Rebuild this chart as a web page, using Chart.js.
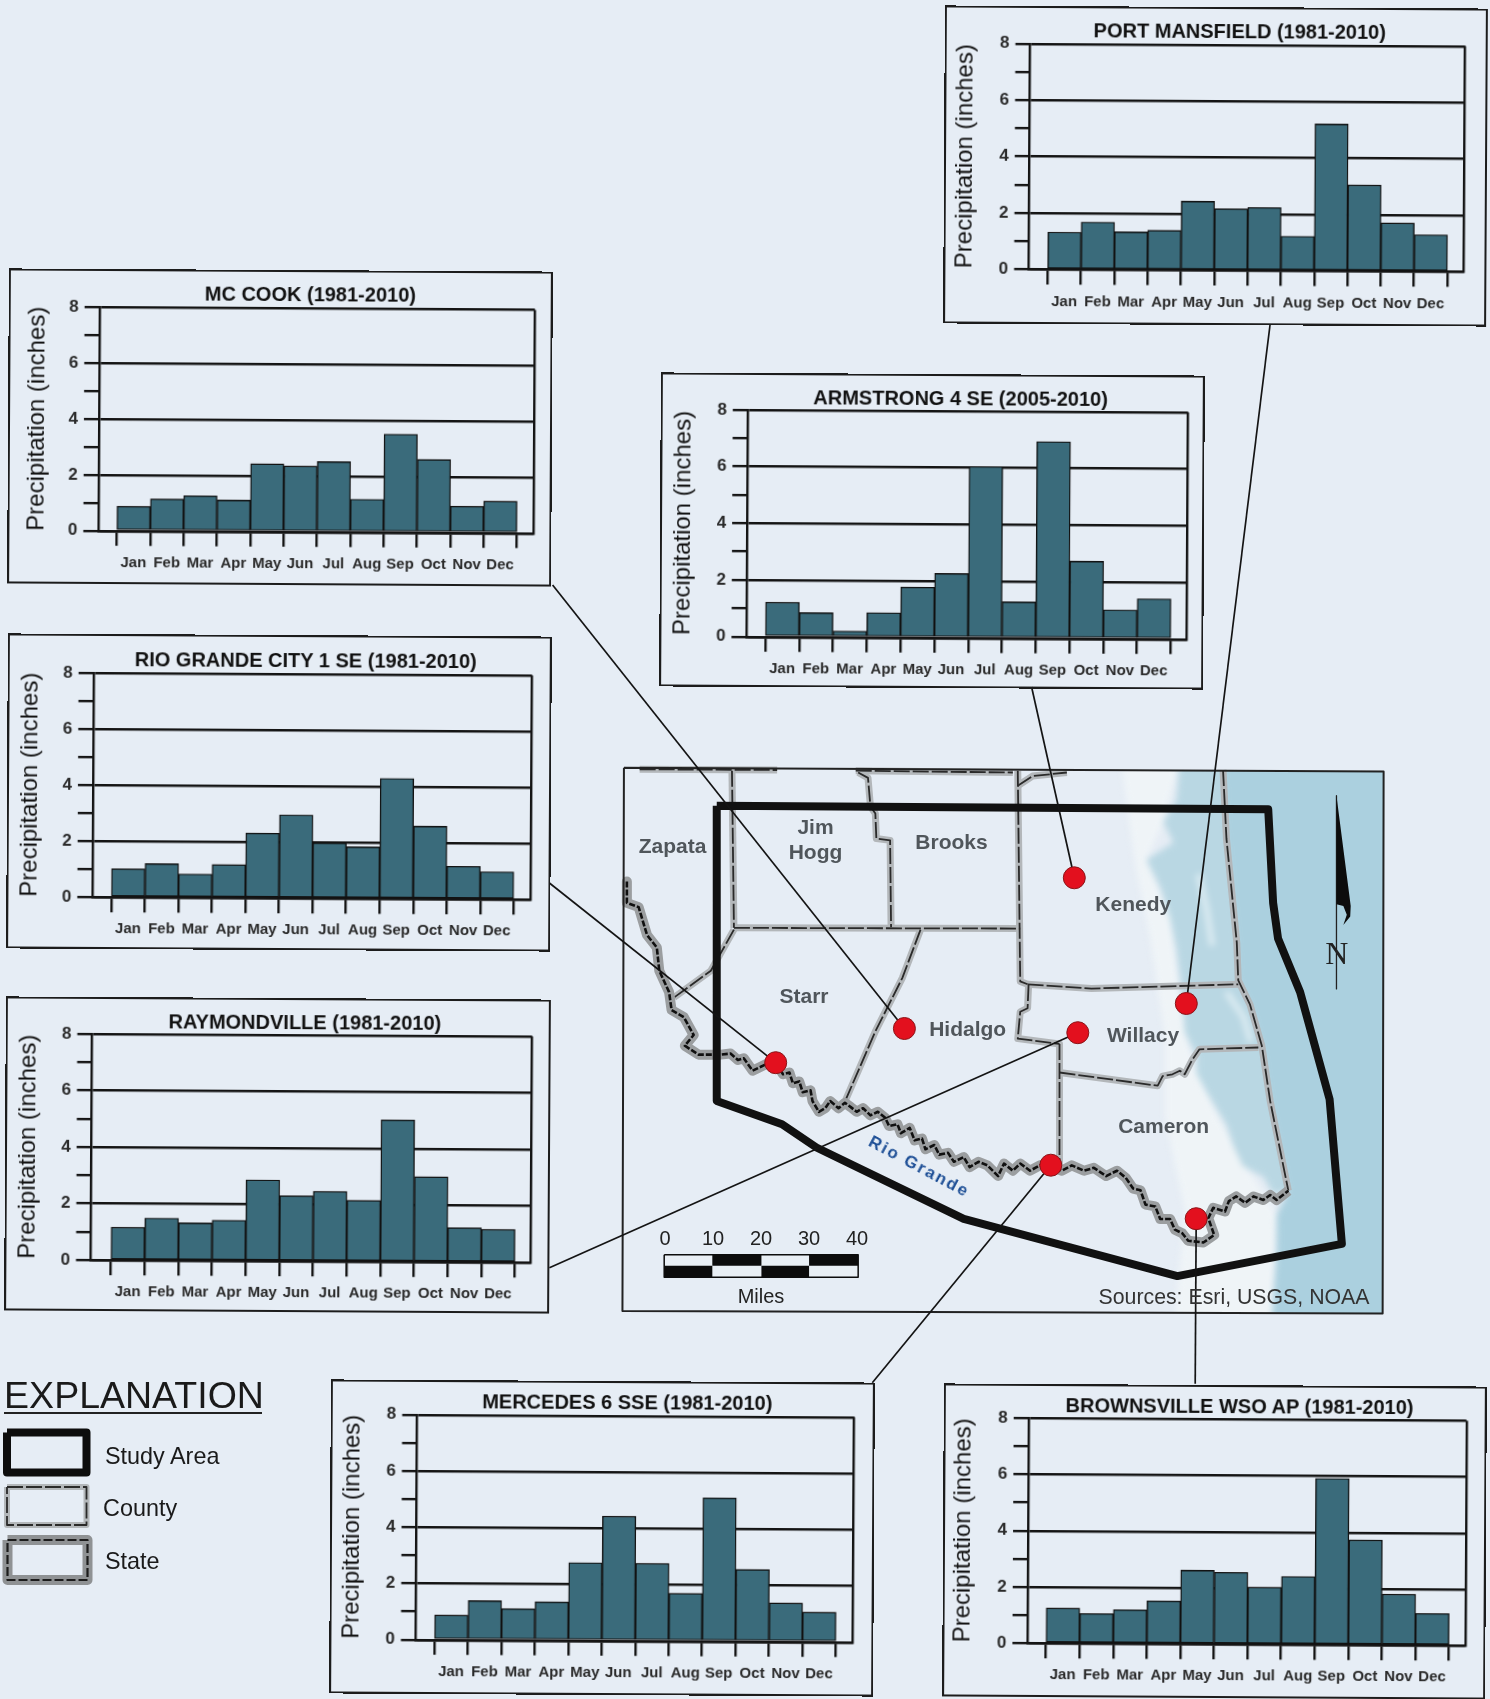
<!DOCTYPE html>
<html>
<head>
<meta charset="utf-8">
<title>Precipitation by station</title>
<script src="https://cdn.jsdelivr.net/npm/chart.js@4"></script>
<style>
    html, body { margin: 0; padding: 0; background: #e6edf5; }
    #page { position: relative; width: 1490px; height: 1699px; overflow: hidden; background: #e6edf5; filter: blur(0.45px); font-family: "Liberation Sans", Arial, sans-serif; color: #1a1a1a; }
    #page canvas { position: absolute; left: 0; top: 0; }
    .panel { position: absolute; z-index: 3; }
    .panel-frame { position: absolute; inset: 0; border: 2.4px solid #1c1c1c; box-sizing: border-box; }
    .panel-title { position: absolute; transform: translate(-50%, -50%); font-weight: bold; font-size: 20px; white-space: nowrap; color: #111; }
    .label { position: absolute; transform: translate(-50%, -50%); white-space: nowrap; z-index: 4; }
    .county { font-weight: bold; font-size: 21px; color: #50565b; }
    .legend-text { font-size: 23.4px; transform: translate(0, -50%); }
</style>
</head>
<body>
<div id="page">
    <canvas id="coastChart" width="770" height="560" style="left:620px;top:760px;z-index:0;filter:blur(3px);clip-path:polygon(3.9px 7.9px,763.8px 11.4px,762.8px 553.6px,2.5px 551.1px)"></canvas>
    <canvas id="mapChart" width="770" height="560" style="left:620px;top:760px;z-index:1"></canvas>
    <canvas id="overlayChart" width="1490" height="1699" style="z-index:2"></canvas>
</div>
<script>
const months = ['Jan', 'Feb', 'Mar', 'Apr', 'May', 'Jun', 'Jul', 'Aug', 'Sep', 'Oct', 'Nov', 'Dec'];
const yTicks = [0, 1, 2, 3, 4, 5, 6, 7, 8];

const portMansfieldValues = [1.33, 1.69, 1.35, 1.41, 2.45, 2.19, 2.24, 1.23, 5.21, 3.06, 1.72, 1.31];
const mcCookValues = [0.88, 1.15, 1.27, 1.12, 2.43, 2.36, 2.52, 1.18, 3.52, 2.62, 0.95, 1.14];
const armstrongValues = [1.22, 0.86, 0.22, 0.87, 1.78, 2.27, 6.05, 1.28, 6.94, 2.73, 1.02, 1.42];
const rioGrandeCityValues = [1.02, 1.21, 0.85, 1.19, 2.32, 2.98, 1.98, 1.85, 4.30, 2.60, 1.18, 0.99];
const raymondvilleValues = [1.17, 1.50, 1.34, 1.44, 2.87, 2.32, 2.48, 2.17, 5.02, 3.02, 1.22, 1.17];
const mercedesValues = [0.88, 1.40, 1.12, 1.37, 2.77, 4.43, 2.76, 1.70, 5.10, 2.56, 1.38, 1.06];
const brownsvilleValues = [1.26, 1.07, 1.21, 1.53, 2.63, 2.56, 2.04, 2.43, 5.92, 3.74, 1.82, 1.14];

// box / plot are left, top, right, bottom on the page, bars is first and last bar edge
const panels = [
    { title: 'PORT MANSFIELD (1981-2010)', values: portMansfieldValues, box: [943.6, 7, 1487, 324.5], plot: [1029.3, 44.7, 1464.6, 270], bars: [1047.9, 1447.9], titleAt: [1238.6, 31], titlePad: 7 },
    { title: 'MC COOK (1981-2010)', values: mcCookValues, box: [8.4, 269.8, 552.4, 585], plot: [99.3, 308.3, 534.6, 531.7], bars: [117.9, 517.9], titleAt: [310, 294], titlePad: 15 },
    { title: 'ARMSTRONG 4 SE (2005-2010)', values: armstrongValues, box: [660, 374, 1204, 688], plot: [747.1, 411, 1187.5, 637.7], bars: [766, 1171.4], titleAt: [959.8, 397.7], titlePad: 9 },
    { title: 'RIO GRANDE CITY 1 SE (1981-2010)', values: rioGrandeCityValues, box: [7, 635, 551, 950], plot: [92.9, 674, 531.4, 898.3], bars: [112, 514.3], titleAt: [305, 660], titlePad: 9 },
    { title: 'RAYMONDVILLE (1981-2010)', values: raymondvilleValues, box: [5.4, 998.3, 550.5, 1312.5], plot: [92, 1035.3, 532, 1261.7], bars: [112, 516], titleAt: [304.5, 1022], titlePad: 9 },
    { title: 'MERCEDES 6 SSE (1981-2010)', values: mercedesValues, box: [329.5, 1381.3, 873.2, 1695], plot: [416, 1416, 852.9, 1640.7], bars: [434.6, 835.7], titleAt: [626, 1402.7], titlePad: 8 },
    { title: 'BROWNSVILLE WSO AP (1981-2010)', values: brownsvilleValues, box: [943.2, 1384.7, 1486, 1698], plot: [1028.2, 1419, 1465.7, 1644.3], bars: [1046.8, 1449.6], titleAt: [1239, 1406], titlePad: 6 }
];

// map outlines in a 1568 x 1568 grid laid over it
const mapFrame = [[8, 22], [1555, 32], [1553, 1550], [5, 1543], [8, 22]];
const paleCoast = [[1020, 0], [1140, 0], [1106, 173], [1072, 279], [1120, 443], [1150, 762], [1174, 878], [1249, 1080], [1337, 1274], [1327, 1568], [1130, 1568], [1150, 1260], [1110, 1000], [1110, 780], [1080, 500], [1050, 300], [1020, 0]];
const lagoon = [[1140, 0], [1133, 115], [1106, 173], [1127, 231], [1072, 279], [1100, 356], [1120, 443], [1133, 530], [1140, 607], [1147, 704], [1150, 762], [1174, 829], [1174, 878], [1201, 945], [1235, 1022], [1249, 1080], [1269, 1138], [1310, 1167], [1330, 1216], [1361, 1206], [1324, 955], [1307, 800], [1283, 685], [1259, 617], [1256, 511], [1235, 221], [1228, 0], [1140, 0]];
const gulf = [[1228, 0], [1235, 221], [1256, 511], [1259, 617], [1283, 685], [1307, 800], [1324, 955], [1361, 1206], [1337, 1274], [1337, 1380], [1327, 1568], [1568, 1568], [1568, 0], [1228, 0]];
const barrierStreaks = [
    [[1178, 320], [1195, 420], [1206, 520]],
    [[1235, 650], [1270, 720], [1285, 790]]
];
const studyArea = [[197, 128], [1320, 138], [1330, 400], [1340, 500], [1385, 650], [1445, 950], [1470, 1355], [1135, 1445], [700, 1285], [400, 1085], [330, 1020], [197, 955], [197, 128]];
const countyLines = [
    [[40, 26], [320, 28]],
    [[480, 30], [800, 35]],
    [[228, 30], [232, 470]],
    [[232, 470], [815, 472]],
    [[485, 35], [505, 50], [510, 130], [520, 150], [522, 220], [550, 225], [552, 468]],
    [[810, 30], [815, 620], [830, 628]],
    [[810, 72], [840, 45], [910, 35]],
    [[830, 628], [960, 640], [1259, 628]],
    [[832, 630], [830, 695], [815, 705], [810, 780], [895, 795]],
    [[895, 795], [895, 1135]],
    [[895, 875], [1095, 912], [1105, 885], [1125, 880], [1140, 870], [1150, 880], [1165, 840], [1180, 810], [1300, 805]],
    [[612, 475], [575, 610], [520, 760], [460, 950]],
    [[232, 475], [185, 590], [110, 665]],
    [[1228, 28], [1235, 221], [1256, 511], [1259, 617], [1283, 685], [1307, 800], [1324, 955], [1361, 1206]]
];
const riverLine = [
    [14, 340], [14, 400], [38, 412], [55, 490], [75, 525], [80, 590], [100, 650], [105, 700], [130, 720], [150, 770], [132, 800], [160, 825], [205, 825],
    [225, 822], [240, 840], [252, 835], [270, 870], [300, 850], [320, 855], [332, 880], [345, 875], [352, 905], [365, 900], [372, 930], [388, 925], [392, 955],
    [405, 985], [418, 975], [428, 955], [445, 975], [458, 960], [470, 972], [482, 985], [495, 975], [510, 995], [525, 985], [540, 1002], [548, 1025], [565, 1020],
    [572, 1045], [590, 1030], [600, 1065], [615, 1060], [622, 1090], [640, 1078], [650, 1105], [668, 1100], [680, 1125], [700, 1112], [712, 1140], [730, 1125],
    [748, 1135], [770, 1165], [782, 1130], [800, 1150], [815, 1130], [835, 1150], [855, 1135], [880, 1140], [900, 1150], [920, 1135], [945, 1150], [965, 1142],
    [990, 1165], [1012, 1150], [1030, 1170], [1045, 1200], [1060, 1205], [1070, 1245], [1090, 1250], [1100, 1285], [1120, 1285], [1130, 1315], [1145, 1325],
    [1157, 1346], [1188, 1351], [1210, 1330], [1198, 1283], [1208, 1254], [1232, 1264], [1240, 1235], [1255, 1222], [1273, 1240], [1290, 1222], [1310, 1232],
    [1324, 1218], [1337, 1232], [1361, 1206]
];
const northArrow = [[1459, 100], [1488, 409], [1487, 438], [1473, 462], [1480, 433], [1473, 409], [1459, 404], [1459, 100]];
const northLine = [[1459, 100], [1459, 641]];
const scaleFrame = [[90, 1385], [485, 1385], [485, 1448], [90, 1448], [90, 1385]];
const scaleBlack = [
    [[188, 1385], [288, 1385], [288, 1416], [188, 1416], [188, 1385]],
    [[385, 1385], [485, 1385], [485, 1416], [385, 1416], [385, 1385]],
    [[90, 1416], [188, 1416], [188, 1448], [90, 1448], [90, 1416]],
    [[288, 1416], [385, 1416], [385, 1448], [288, 1448], [288, 1416]]
];

// page coordinates
const stations = [[1074.3, 877.8], [1186.3, 1003.5], [1077.8, 1032.7], [904.4, 1028.5], [775.7, 1062.7], [1050.8, 1165.2], [1196.2, 1218.7]];
const leaderLines = [
    [[1270, 325], [1186.3, 1003.5]],
    [[1031.6, 687], [1074.3, 877.8]],
    [[552.6, 585], [904.4, 1028.5]],
    [[549.4, 883], [775.7, 1062.7]],
    [[549.4, 1267.8], [1077.8, 1032.7]],
    [[872.3, 1382.7], [1050.8, 1165.2]],
    [[1195.2, 1383.7], [1196.2, 1218.7]]
];
const legendStudy = [[7, 1432.5], [86.5, 1432.5], [86.5, 1472.5], [7, 1472.5], [7, 1432.5]];
const legendCounty = [[7, 1487], [86.5, 1487], [86.5, 1525], [7, 1525], [7, 1487]];
const legendState = [[7.5, 1540], [87.5, 1540], [87.5, 1580], [7.5, 1580], [7.5, 1540]];
const explanationRule = [[4, 1413], [262, 1413]];

const countyLabels = [['Zapata', 672.6, 846.4], ['Jim', 815.5, 827], ['Hogg', 815.5, 852], ['Brooks', 951.5, 842], ['Kenedy', 1133.3, 904], ['Starr', 804, 995.7], ['Hidalgo', 967.7, 1028.5], ['Willacy', 1143, 1035], ['Cameron', 1163.7, 1126]];
const scaleLabels = [['0', 665, 1237.5], ['10', 713, 1237.5], ['20', 761, 1237.5], ['30', 809, 1237.5], ['40', 857, 1237.5], ['Miles', 761, 1296]];
const legendLabels = [['Study Area', 105, 1455.7], ['County', 103, 1508], ['State', 105, 1561]];

const page = document.getElementById('page');
const DARK = '#141414';

function toPoints(path) {
    return path.map(p => ({ x: p[0], y: p[1] }));
}

function stroke(path, color, width, dash) {
    return { data: toPoints(path), showLine: true, pointRadius: 0, borderColor: color, borderWidth: width, borderDash: dash || [], borderJoinStyle: 'round', tension: 0, fill: false };
}

function shape(path, color) {
    return { data: toPoints(path), showLine: true, pointRadius: 0, borderWidth: 0, borderColor: color, backgroundColor: color, tension: 0, fill: 'shape' };
}

// datasets are listed in paint order, first one ends up at the back
function paintOrder(list) {
    list.forEach((d, i) => { d.order = list.length - i; });
    return list;
}

function plainOptions(xMax, yMax) {
    return {
        responsive: false,
        animation: false,
        events: [],
        layout: { autoPadding: false },
        plugins: { legend: { display: false }, tooltip: { enabled: false } },
        scales: {
            x: { type: 'linear', display: false, min: 0, max: xMax },
            y: { type: 'linear', display: false, min: 0, max: yMax, reverse: true }
        }
    };
}

function drawCoast() {
    const list = [
        shape(paleCoast, '#eff4f7'),
        shape(lagoon, '#b9d7e3'),
        shape(gulf, '#abd0df')
    ];
    barrierStreaks.forEach(s => list.push(stroke(s, '#dcecf2', 6)));

    new Chart(document.getElementById('coastChart'), {
        type: 'scatter',
        data: { datasets: paintOrder(list) },
        options: plainOptions(1568, 1568)
    });
}

function drawMap() {
    const list = [];
    countyLines.forEach(l => list.push(stroke(l, '#b3b7ba', 7)));
    countyLines.forEach(l => list.push(stroke(l, '#2a2a2a', 1.8, [16, 3])));
    list.push(stroke(riverLine, '#9b9ea0', 10));
    list.push(stroke(riverLine, '#101010', 2.6, [6, 2]));
    list.push(stroke(studyArea, '#111', 8));
    list.push(stroke(northLine, '#222', 1.3));
    list.push(shape(northArrow, '#0c0c0c'));
    list.push(shape(scaleFrame, '#e9eff5'));
    scaleBlack.forEach(c => list.push(shape(c, '#0c0c0c')));
    list.push(stroke(scaleFrame, '#0c0c0c', 1.5));
    list.push(stroke(mapFrame, '#222', 2));

    new Chart(document.getElementById('mapChart'), {
        type: 'scatter',
        data: { datasets: paintOrder(list) },
        options: plainOptions(1568, 1568)
    });
}

function drawOverlay() {
    const list = [];
    leaderLines.forEach(l => list.push(stroke(l, DARK, 1.7)));
    list.push({ data: toPoints(stations), pointRadius: 11, pointBackgroundColor: '#e3101e', pointBorderColor: '#8a1418', pointBorderWidth: 1, showLine: false });
    list.push(stroke(explanationRule, '#222', 2));
    list.push(stroke(legendStudy, '#0d0d0d', 8));
    list.push(stroke(legendCounty, '#b3b7ba', 6));
    list.push(stroke(legendCounty, '#2a2a2a', 1.8, [16, 3]));
    list.push(stroke(legendState, '#8f9294', 10));
    list.push(stroke(legendState, '#1c1c1c', 2.2, [9, 3]));

    new Chart(document.getElementById('overlayChart'), {
        type: 'scatter',
        data: { datasets: paintOrder(list) },
        options: plainOptions(1490, 1699)
    });
}

function drawPanel(panel) {
    const [boxL, boxT, boxR, boxB] = panel.box;
    const [plotL, plotT, plotR, plotB] = panel.plot;
    const [barL, barR] = panel.bars;

    const wrap = document.createElement('div');
    wrap.className = 'panel';
    wrap.style.cssText = `left:${boxL}px;top:${boxT}px;width:${boxR - boxL}px;height:${boxB - boxT}px;transform:rotate(0.33deg)`;
    wrap.innerHTML = `<div class="panel-frame"></div>
        <div class="panel-title" style="left:${panel.titleAt[0] - boxL}px;top:${panel.titleAt[1] - boxT}px">${panel.title}</div>`;
    const canvas = document.createElement('canvas');
    canvas.width = Math.round(boxR - boxL);
    canvas.height = Math.round(boxB - boxT);
    wrap.appendChild(canvas);
    page.appendChild(wrap);

    const unit = (barR - barL) / 12;
    const xMin = -0.5 - (barL - plotL) / unit;
    const xMax = 11.5 + (plotR - barR) / unit;
    const tickHeight = 15;

    new Chart(canvas, {
        type: 'bar',
        data: {
            datasets: [{
                data: panel.values.map((v, i) => ({ x: i, y: v })),
                backgroundColor: '#3a6b7b',
                borderColor: '#111',
                borderWidth: 1.4,
                borderSkipped: false,
                barThickness: unit
            }]
        },
        options: {
            responsive: false,
            animation: false,
            events: [],
            layout: { autoPadding: false, padding: { top: plotT - boxT, right: boxR - plotR, left: 0, bottom: 0 } },
            plugins: { legend: { display: false }, tooltip: { enabled: false } },
            scales: {
                x: {
                    type: 'linear',
                    position: 'bottom',
                    offset: false,
                    min: xMin,
                    max: xMax,
                    afterBuildTicks: s => { s.ticks = months.map((m, i) => ({ value: i - 0.5 })).concat([{ value: 11.5 }, { value: xMax }]); },
                    afterFit: s => { s.height = tickHeight; },
                    border: { color: DARK, width: 2.4 },
                    grid: {
                        offset: false,
                        color: c => (c.tick && c.tick.value === xMax ? DARK : 'rgba(0,0,0,0)'),
                        tickColor: c => (c.tick && c.tick.value === xMax ? 'rgba(0,0,0,0)' : DARK),
                        lineWidth: 2.4,
                        tickWidth: 2.4,
                        tickLength: tickHeight
                    },
                    ticks: { callback: () => '', autoSkip: false, maxRotation: 0, padding: 0, font: { size: 1 } }
                },
                monthLabels: {
                    type: 'linear',
                    position: 'bottom',
                    axis: 'x',
                    offset: false,
                    min: xMin,
                    max: xMax,
                    afterBuildTicks: s => { s.ticks = months.map((m, i) => ({ value: i })); },
                    afterFit: s => { s.height = boxB - plotB - tickHeight; },
                    border: { display: false },
                    grid: { display: false, drawTicks: false, offset: false },
                    ticks: {
                        callback: v => months[v],
                        autoSkip: false,
                        maxRotation: 0,
                        padding: 8,
                        color: '#2a2a2a',
                        font: { family: '"Liberation Sans", Arial, sans-serif', size: 15, weight: 'bold' }
                    }
                },
                y: {
                    type: 'linear',
                    min: yTicks[0],
                    max: yTicks[yTicks.length - 1],
                    afterFit: s => { s.width = plotL - boxL; },
                    border: { color: DARK, width: 2.4 },
                    grid: {
                        color: c => (c.tick && c.tick.value % 2 === 0 ? DARK : 'rgba(0,0,0,0)'),
                        tickColor: DARK,
                        lineWidth: 2.4,
                        tickWidth: 2.4,
                        tickLength: 15
                    },
                    ticks: {
                        stepSize: 1,
                        autoSkip: false,
                        padding: 6,
                        color: '#2a2a2a',
                        font: { family: '"Liberation Sans", Arial, sans-serif', size: 17, weight: 'bold' },
                        callback: v => (v % 2 === 0 ? v : '')
                    },
                    title: {
                        display: true,
                        text: 'Precipitation (inches)',
                        color: '#141414',
                        font: { family: '"Liberation Sans", Arial, sans-serif', size: 24 },
                        padding: { top: panel.titlePad, bottom: 0 }
                    }
                }
            }
        }
    });
}

function addLabel(text, x, y, cls, extra) {
    const el = document.createElement('div');
    el.className = 'label ' + (cls || '');
    el.textContent = text;
    el.style.left = x + 'px';
    el.style.top = y + 'px';
    if (extra) el.style.cssText += extra;
    page.appendChild(el);
}

drawCoast();
drawMap();
drawOverlay();
panels.forEach(drawPanel);

countyLabels.forEach(l => addLabel(l[0], l[1], l[2], 'county'));
scaleLabels.forEach(l => addLabel(l[0], l[1], l[2], '', 'font-size:20px;color:#222'));
legendLabels.forEach(l => addLabel(l[0], l[1], l[2], 'legend-text'));
addLabel('EXPLANATION', 134, 1395, '', 'font-size:37.5px;color:#1a1a1a');
addLabel('Rio Grande', 918.6, 1167, '', 'font-size:17px;font-weight:bold;letter-spacing:2px;color:#1e4f96;transform:translate(-50%,-50%) rotate(28deg)');
addLabel('Sources: Esri, USGS, NOAA', 1234, 1297, '', 'font-size:21.3px;color:#333');
addLabel('N', 1336.7, 952.8, '', 'font-family:"Liberation Serif",serif;font-size:32px;color:#222');
</script>
</body>
</html>
